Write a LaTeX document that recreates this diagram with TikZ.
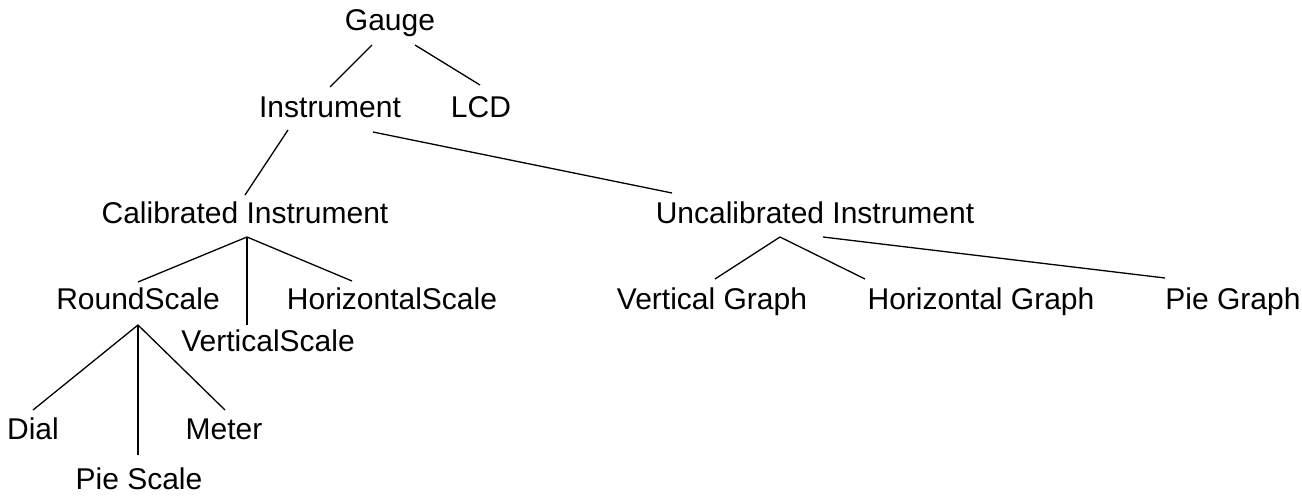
\documentclass[tikz,border=0pt]{standalone}
\usepackage{fontspec}
\setmainfont{Liberation Sans}
\usetikzlibrary{calc}
\begin{document}
\begin{tikzpicture}[x=1pt,y=-1pt,
  lbl/.style={inner sep=0pt, anchor=base, font=\fontsize{30}{36}\selectfont},
  edge/.style={line width=1.3pt, black}]
\useasboundingbox[fill=white] (0,0) rectangle (1302,498);
\node[lbl] (gauge) at (390,30) {Gauge};
\node[lbl] (inst) at (330,117) {Instrument};
\node[lbl] (lcd) at (481,117) {LCD};
\node[lbl] (cal) at (245,223) {Calibrated Instrument};
\node[lbl] (uncal) at (815,223) {Uncalibrated Instrument};
\node[lbl] (rs) at (138,309) {RoundScale};
\node[lbl] (hs) at (392,309) {HorizontalScale};
\node[lbl] (vs) at (268,351) {VerticalScale};
\node[lbl] (vg) at (712,309) {Vertical Graph};
\node[lbl] (hg) at (981,309) {Horizontal Graph};
\node[lbl] (pg) at (1233,309) {Pie Graph};
\node[lbl] (dial) at (33,439) {Dial};
\node[lbl] (meter) at (224,439) {Meter};
\node[lbl] (ps) at (139,489) {Pie Scale};
% connectors
\draw[edge] ($(gauge.base)+(-18,15)$) -- ($(inst.base)+(0,-30)$);
\draw[edge] ($(gauge.base)+(25,15)$) -- ($(lcd.base)+(-1,-32)$);
\draw[edge] ($(inst.base)+(-42,13)$) -- ($(cal.base)+(0,-28)$);
\draw[edge] ($(inst.base)+(43,15)$) -- ($(uncal.base)+(-143,-30)$);
\draw[edge] ($(rs.base)+(0,-27)$) -- ($(cal.base)+(2,14)$) -- ($(hs.base)+(-40,-28)$);
\draw[edge] ($(cal.base)+(2,14)$) -- ($(vs.base)+(-21,-26)$);
\draw[edge] ($(vg.base)+(3,-30)$) -- ($(uncal.base)+(-35,14)$) -- ($(hg.base)+(-116,-30)$);
\draw[edge] ($(uncal.base)+(8,14)$) -- ($(pg.base)+(-68,-31)$);
\draw[edge] ($(dial.base)+(0,-29)$) -- ($(rs.base)+(0,16)$) -- ($(meter.base)+(1,-29)$);
\draw[edge] ($(rs.base)+(0,16)$) -- ($(ps.base)+(-1,-34)$);
\end{tikzpicture}
\end{document}
